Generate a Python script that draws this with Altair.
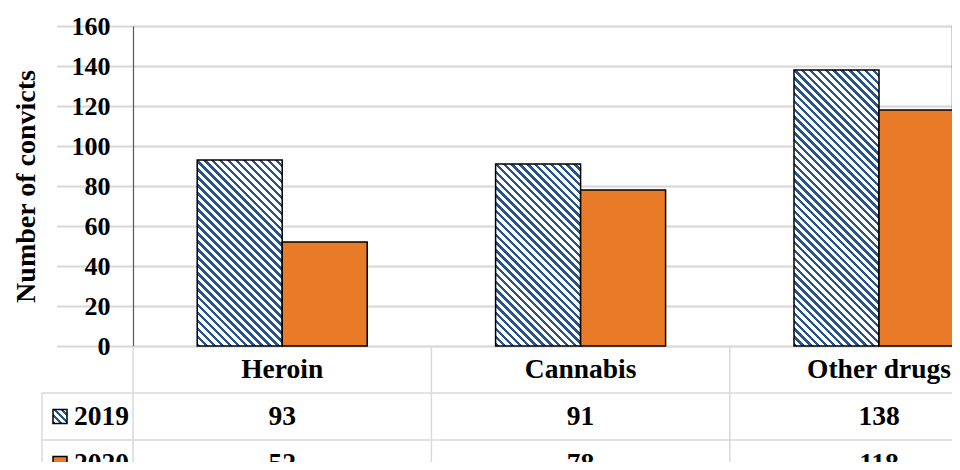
import math
import altair as alt
import pandas as pd

# ---------------- data ----------------
categories = ["Heroin", "Cannabis", "Other drugs"]
years = ["2019", "2020"]
values_2019 = [93, 91, 138]
values_2020 = [52, 78, 118]
y_ticks = [0, 20, 40, 60, 80, 100, 120, 140, 160]
table_rows = ["header", "2019", "2020"]

# ---------------- style ----------------
FONT = "Liberation Serif"
BLUE = "#27548A"
ORANGE = "#E87A28"
GRID = "#D9D9D9"
FS_AXIS = 26
FS_TABLE = 27.5

PLOT_H = 320
Y_MAX = 160
STEP = 298.4
XR = STEP * len(categories)
BAR_W = 85
TABLE_ROW = 47
PAD_L, PAD_T = 125, 18
VIEW_W = 944 - PAD_L          # keep the page free of scrollbars
VIEW_H = 454 - PAD_T
TABLE_END = PLOT_H + TABLE_ROW * 3


def stripe_gradient(w, h, period=5.6, frac=0.44, c1=BLUE, c2="#FFFFFF"):
    """Diagonal '\\' stripes at 45 degrees inside a w x h box (bbox units)."""
    k = (w + h) / (w * w + h * h)
    x2 = k * w
    y2 = 1 - k * h
    L = (w + h) / math.sqrt(2)
    n = max(1, round(L / period))
    stops = []
    for i in range(n):
        a = i / n
        b = (i + frac) / n
        c = (i + 1) / n
        stops += [
            {"offset": a, "color": c1},
            {"offset": b, "color": c1},
            {"offset": b, "color": c2},
            {"offset": c, "color": c2},
        ]
    return {"gradient": "linear", "x1": 0, "y1": 1, "x2": x2, "y2": y2, "stops": stops}


bars_df = pd.DataFrame({
    "cat": categories * 2,
    "year": ["2019"] * len(categories) + ["2020"] * len(categories),
    "value": values_2019 + values_2020,
})

table_df = pd.DataFrame(
    [{"cat": c, "row": "header", "label": c} for c in categories]
    + [{"cat": c, "row": "2019", "label": str(v)} for c, v in zip(categories, values_2019)]
    + [{"cat": c, "row": "2020", "label": str(v)} for c, v in zip(categories, values_2020)]
)
rows_df = pd.DataFrame({"row": table_rows})
cats_df = pd.DataFrame({"cat": categories})

x_scale = alt.Scale(domain=categories, range=[0, XR], paddingInner=0, paddingOuter=0)
xo_scale = alt.Scale(domain=years, paddingInner=0, paddingOuter=(STEP / BAR_W - 2) / 2)
y_scale = alt.Scale(domain=[0, Y_MAX], range=[PLOT_H, 0], nice=False, zero=True)
row_scale = alt.Scale(domain=table_rows, range=[PLOT_H, TABLE_END],
                      paddingInner=0, paddingOuter=0)

y_axis = alt.Axis(
    values=y_ticks, grid=True, gridColor=GRID, gridWidth=1.3,
    domain=True, domainColor="#595959", domainWidth=1.2, ticks=False,
    labelPadding=23, labelFont=FONT, labelFontSize=FS_AXIS, labelFontWeight="bold",
    labelColor="black", title="Number of convicts", titleFont=FONT,
    titleFontSize=28, titleFontWeight="bold", titleColor="black", titlePadding=31,
)

base = alt.Chart(bars_df).encode(
    x=alt.X("cat:N", scale=x_scale, axis=None, sort=categories),
    xOffset=alt.XOffset("year:N", scale=xo_scale, sort=years),
    y=alt.Y("value:Q", scale=y_scale, axis=y_axis),
)

layers = []
for i, c in enumerate(categories):
    h = values_2019[i] * PLOT_H / Y_MAX
    layers.append(
        base.transform_filter((alt.datum.cat == c) & (alt.datum.year == "2019"))
        .mark_bar(fill=stripe_gradient(BAR_W, h), stroke="black", strokeWidth=1.5)
    )
layers.append(
    base.transform_filter(alt.datum.year == "2020")
    .mark_bar(fill=ORANGE, stroke="black", strokeWidth=1.5)
)

# ---- data table under the plot ----
row_center = alt.Y("row:N", scale=row_scale, axis=None, sort=table_rows)
row_top = alt.Y("row:N", scale=row_scale, axis=None, sort=table_rows, bandPosition=0)

hlines = alt.Chart(rows_df).transform_filter(alt.datum.row != "header").mark_rule(
    color=GRID, strokeWidth=1.5
).encode(x=alt.value(-91), x2=alt.value(VIEW_W + 10), y=row_top)

vlines = alt.Chart(cats_df).mark_rule(color=GRID, strokeWidth=1.5).encode(
    x=alt.X("cat:N", scale=x_scale, axis=None, bandPosition=0, sort=categories),
    y=alt.value(PLOT_H), y2=alt.value(TABLE_END),
)

left_vline = alt.Chart(rows_df).transform_filter(alt.datum.row == "2019").mark_rule(
    color=GRID, strokeWidth=1.5
).encode(x=alt.value(-91), y=row_top, y2=alt.value(TABLE_END))

cells = alt.Chart(table_df).mark_text(
    font=FONT, fontSize=FS_TABLE, fontWeight="bold", color="black", baseline="middle"
).encode(
    x=alt.X("cat:N", scale=x_scale, axis=None, sort=categories),
    y=row_center,
    text="label:N",
)

row_labels = alt.Chart(rows_df).transform_filter(alt.datum.row != "header").mark_text(
    font=FONT, fontSize=FS_TABLE, fontWeight="bold", color="black", baseline="middle", align="right"
).encode(x=alt.value(-4), y=row_center, text="row:N")

key_2019 = alt.Chart(rows_df).transform_filter(alt.datum.row == "2019").mark_square(
    size=196, fill=stripe_gradient(14, 14, period=5.0, frac=0.42), stroke="black",
    strokeWidth=1.5, opacity=1
).encode(x=alt.value(-73), y=row_center)

key_2020 = alt.Chart(rows_df).transform_filter(alt.datum.row == "2020").mark_square(
    size=196, fill=ORANGE, stroke="black", strokeWidth=1.5, opacity=1
).encode(x=alt.value(-73), y=row_center)

chart = alt.layer(
    hlines, vlines, left_vline, *layers, cells, row_labels, key_2019, key_2020
).resolve_scale(y="independent").properties(
    width=VIEW_W,
    height=VIEW_H,
    autosize=alt.AutoSizeParams(type="none"),
    padding={"left": PAD_L, "top": PAD_T, "right": 0, "bottom": 0},
    background="white",
).configure_view(stroke=None)

chart.save("out.html", embed_options={"renderer": "svg", "actions": False})
